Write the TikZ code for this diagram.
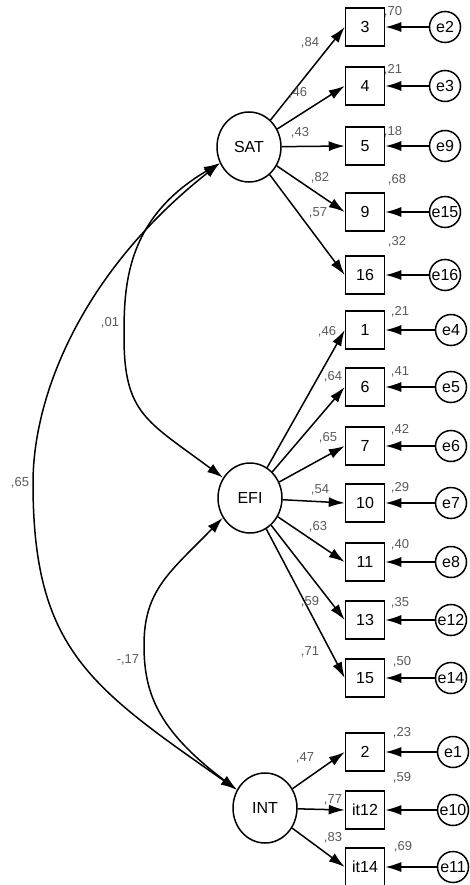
\documentclass[tikz,border=0pt]{standalone}
\usepackage{fontspec}
\setmainfont{Liberation Sans}
\usetikzlibrary{arrows.meta,shapes.geometric}
\tikzset{
  lat/.style={draw,ellipse,minimum width=64pt,minimum height=70pt,inner sep=0pt,font=\fontsize{16}{18}\selectfont},
  obs/.style={draw,rectangle,minimum width=39pt,minimum height=38pt,inner sep=1pt,font=\fontsize{16}{18}\selectfont},
  err/.style={draw,circle,minimum size=31pt,inner sep=0pt,font=\fontsize{16}{18}\selectfont},
  coef/.style={text=black!65,font=\fontsize{13}{15}\selectfont,inner sep=0pt},
}
\begin{document}
\begin{tikzpicture}[x=1pt,y=-1pt,>={Latex[length=16pt,width=10pt]},line width=1.5pt]
  \useasboundingbox (0,0) rectangle (469,885);
  \node[lat] (SAT) at (249,147) {SAT};
  \node[lat] (EFI) at (250,498) {EFI};
  \node[lat] (INT) at (265,808) {INT};
  % items with their errors
  \foreach \v/\y/\e/\xe/\lv in {3/27/e2/445/SAT,4/86/e3/445/SAT,5/146/e9/445/SAT,9/212/e15/445/SAT,16/275/e16/445/SAT,
      1/330/e4/451/EFI,6/387/e5/451/EFI,7/446/e6/451/EFI,10/503/e7/451/EFI,11/562/e8/451/EFI,13/620/e12/451/EFI,15/678/e14/451/EFI,
      2/752/e1/453/INT,it12/810/e10/453/INT,it14/867/e11/453/INT}{
    \node[obs] (b\v) at (365,\y) {\v};
    \node[err] (\e) at (\xe,\y) {\e};
    \draw[->] (\e) -- (b\v);
    \draw[->] (\lv) -- (b\v.west);
  }
  % covariances
  \coordinate (left01) at (124,337);
  \coordinate (left65) at (33,483);
  \coordinate (left17) at (144,645);
  \draw[<->] (SAT.209) .. controls (125,219) and (124,287) .. (left01) .. controls (124,414) and (147,421) .. (EFI.143);
  \draw[<->] (SAT.209) .. controls (83,271) and (33,394) .. (left65) .. controls (33,649) and (90,687) .. (INT.147);
  \draw[<->] (EFI.216) .. controls (170,572) and (144,590) .. (left17) .. controls (144,691) and (156,729) .. (INT.147);
  % estimates
  \foreach \x/\y/\t in {310/43/{,84},298/93/{,46},300/133/{,43},320/178/{,82},318/213/{,57},
      393/12/{,70},393/70/{,21},393/132/{,18},397/180/{,68},397/242/{,32},
      327/332/{,46},333/377/{,64},328/438/{,65},320/490/{,54},318/527/{,63},310/602/{,59},310/652/{,71},
      400/312/{,21},400/372/{,41},400/430/{,42},400/488/{,29},400/545/{,40},400/603/{,35},402/662/{,50},
      305/758/{,47},333/800/{,77},333/838/{,83},402/733/{,23},402/778/{,59},403/847/{,69},
      110/323/{,01},20/483/{,65}}
    \node[coef] at (\x,\y) {\t};
  \node[coef] at (128,660) {-,17};
\end{tikzpicture}
\end{document}
